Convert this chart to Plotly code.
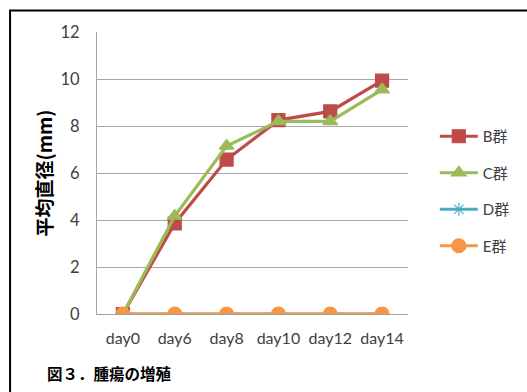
import plotly.graph_objects as go

categories = ["day0", "day6", "day8", "day10", "day12", "day14"]
series_names = ["B群", "C群", "D群", "E群"]
b_values = [0, 3.85, 6.57, 8.25, 8.62, 9.93]
c_values = [0, 4.17, 7.15, 8.2, 8.2, 9.55]
d_values = [0, 0, 0, 0, 0, 0]
e_values = [0, 0, 0, 0, 0, 0]
y_ticks = [0, 2, 4, 6, 8, 10, 12]

colors = ["#BE4B48", "#9BBB59", "#4BACC6", "#F79646"]
symbols = ["square", "triangle-up", "asterisk-open", "circle"]
sizes = [13, 13, 11, 14]

fig = go.Figure()
for i, (name, vals) in enumerate(zip(series_names, [b_values, c_values, d_values, e_values])):
    fig.add_trace(go.Scatter(
        x=categories, y=vals, name=name, mode="lines+markers",
        line=dict(color=colors[i], width=3.2),
        marker=dict(symbol=symbols[i], size=sizes[i], color=colors[i],
                    line=dict(color=colors[i], width=1.2)),
        legendgroup=name,
    ))

W, H = 527, 392
L, R, T, B = 97, 410, 32, 314
fig.update_layout(
    width=W, height=H,
    margin=dict(l=L, r=W - R, t=T, b=H - B),
    paper_bgcolor="white", plot_bgcolor="white",
    font=dict(family="Lato, 'Noto Sans CJK JP', sans-serif", size=15, color="#404040"),
    showlegend=True,
    legend=dict(x=(437 - L) / (R - L), y=(B - 120) / (B - T), xanchor="left", yanchor="top",
                font=dict(size=15, color="#404040", family="Lato, 'Noto Sans CJK JP', sans-serif"),
                tracegroupgap=14, traceorder="grouped", itemwidth=38,
                bgcolor="rgba(0,0,0,0)"),
    xaxis=dict(type="category", range=[-0.5, 5.5], showgrid=False,
               showline=True, linecolor="#A0A0A0", linewidth=1.3,
               ticks="", ticklabelstandoff=10, tickfont=dict(size=16, color="#404040"),
               zeroline=False),
    yaxis=dict(range=[0, 12], tickvals=y_ticks, showgrid=True, gridcolor="#A6A6A6",
               gridwidth=1.2, showline=True, linecolor="#A6A6A6", linewidth=1.3,
               zeroline=False, ticks="", ticklabelstandoff=13,
               tickfont=dict(size=16.5, color="#404040"),
               title=dict(text="<b>平均直径(mm)</b>", standoff=2,
                          font=dict(size=19, color="#000000",
                                    family="'Noto Sans CJK JP', sans-serif"))),
)

# figure border
fig.add_shape(type="rect", xref="paper", yref="paper",
              x0=(9.5 - L) / (R - L), x1=(540 - L) / (R - L),
              y0=(B - 420) / (B - T), y1=(B - 10.5) / (B - T),
              line=dict(color="#000000", width=2), fillcolor="rgba(0,0,0,0)", layer="above")

fig.add_annotation(text="<b>図３．腫瘍の増殖</b>", xref="paper", yref="paper",
                   x=(45 - L) / (R - L), y=(B - 373) / (B - T), xanchor="left", yanchor="middle",
                   showarrow=False,
                   font=dict(size=15.5, color="#000000", family="'Noto Sans CJK JP', sans-serif"))

fig.write_html("out.html")
